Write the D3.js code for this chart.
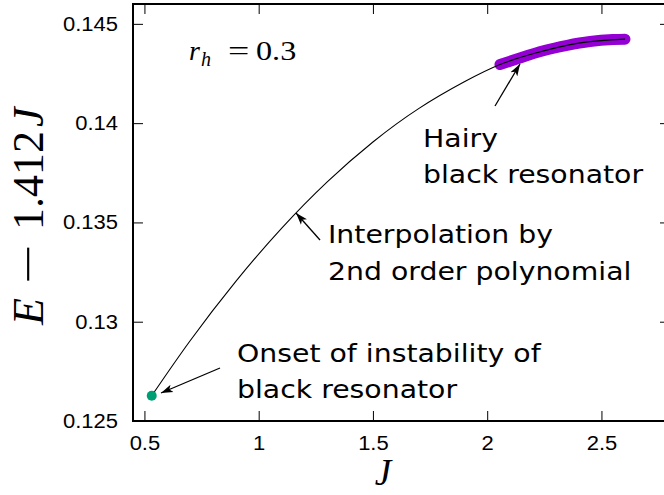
<!DOCTYPE html>
<html>
<head>
<meta charset="utf-8">
<script src="https://cdn.jsdelivr.net/npm/d3@7"></script>
<style>
  html, body { margin: 0; padding: 0; background: #fff; }
  svg { display: block; }
</style>
</head>
<body>
<div id="chart"></div>
<script>
// ---- Data ----
const xTicks = [0.5, 1, 1.5, 2, 2.5];
const yTicks = [0.125, 0.13, 0.135, 0.14, 0.145];
const yTickLabels = ["0.125", "0.13", "0.135", "0.14", "0.145"];

// Interpolation by 2nd order polynomial (thin black curve)
const curveJ = [0.532, 0.7, 0.9, 1.1, 1.3, 1.5, 1.7, 1.9, 2.056, 2.2, 2.4, 2.603];
const curveE = [0.12627, 0.12904, 0.13203, 0.13470, 0.13704, 0.13905, 0.14073, 0.14208, 0.14295, 0.14349, 0.14403, 0.14423];

// Hairy black resonator (thick purple band)
const hairyJ = [2.056, 2.15, 2.25, 2.35, 2.45, 2.55, 2.603];
const hairyE = [0.14295, 0.14331, 0.14366, 0.14392, 0.14411, 0.14421, 0.14423];

// Onset of instability of black resonator
const onsetJ = [0.532];
const onsetE = [0.12627];

// ---- Layout ----
const W = 664, H = 495;
const svg = d3.select("#chart").append("svg").attr("width", W).attr("height", H);

const x = d3.scaleLinear().domain([0.45, 2.8]).range([133, 670]);
const y = d3.scaleLinear().domain([0.125, 0.146]).range([421, 4]);

const tickFont = "'Liberation Sans', Arial, Helvetica, sans-serif";
const textFont = "'DejaVu Sans', Verdana, sans-serif";
const mathFont = "'Liberation Serif', 'Times New Roman', serif";

function stretch(sel, f) {
  sel.each(function () {
    const len = this.getComputedTextLength();
    d3.select(this).attr("textLength", len * f).attr("lengthAdjust", "spacingAndGlyphs");
  });
}

// Axes (ticks inward, mirrored)
const gx = svg.append("g").attr("transform", `translate(0,${y.range()[0]})`)
  .call(d3.axisBottom(x).tickValues(xTicks).tickSize(-10).tickPadding(15).tickFormat(d3.format("")));
const gy = svg.append("g").attr("transform", `translate(${x.range()[0]},0)`)
  .call(d3.axisLeft(y).tickValues(yTicks).tickSize(-10).tickPadding(15).tickFormat((d, i) => yTickLabels[i]));
const gxTop = svg.append("g").attr("transform", `translate(0,${y.range()[1]})`)
  .call(d3.axisTop(x).tickValues(xTicks).tickSize(-10).tickFormat(""));
const gyRight = svg.append("g").attr("transform", `translate(${x.range()[1]},0)`)
  .call(d3.axisRight(y).tickValues(yTicks).tickSize(-10).tickFormat(""));

[gx, gy, gxTop, gyRight].forEach(g => {
  g.select(".domain").remove();
  g.selectAll(".tick line").attr("stroke", "#000").attr("stroke-width", 1);
  g.selectAll("text").attr("font-family", tickFont).attr("font-size", 20).attr("fill", "#000");
});
stretch(gx.selectAll("text"), 1.1);
stretch(gy.selectAll("text"), 1.1);

// Frame
svg.append("rect")
  .attr("x", x.range()[0]).attr("y", y.range()[1])
  .attr("width", x.range()[1] - x.range()[0])
  .attr("height", y.range()[0] - y.range()[1])
  .attr("fill", "none").attr("stroke", "#000").attr("stroke-width", 2);

// Purple band
const hairyData = hairyJ.map((j, i) => [j, hairyE[i]]);
const line = d3.line().x(d => x(d[0])).y(d => y(d[1])).curve(d3.curveNatural);
svg.append("path").datum(hairyData)
  .attr("d", line)
  .attr("fill", "none").attr("stroke", "#9400d3")
  .attr("stroke-width", 11).attr("stroke-linecap", "round").attr("stroke-linejoin", "round");

// Thin curve
const curveData = curveJ.map((j, i) => [j, curveE[i]]);
svg.append("path").datum(curveData)
  .attr("d", line)
  .attr("fill", "none").attr("stroke", "#000").attr("stroke-width", 1.1);

// Onset point
svg.selectAll("circle.onset").data(onsetJ.map((j, i) => [j, onsetE[i]]))
  .enter().append("circle")
  .attr("cx", d => x(d[0])).attr("cy", d => y(d[1])).attr("r", 5)
  .attr("fill", "#009e73");

// Arrow marker
svg.append("defs").append("marker")
  .attr("id", "ah").attr("viewBox", "0 -5 12 10")
  .attr("refX", 12).attr("refY", 0)
  .attr("markerWidth", 12).attr("markerHeight", 10)
  .attr("markerUnits", "userSpaceOnUse")
  .attr("orient", "auto")
  .append("path").attr("d", "M0,-4 L12,0 L0,4 L3,0 Z").attr("fill", "#000");

const arrows = [
  [495, 106, 520, 64],
  [320, 240, 296, 213],
  [220, 368, 161, 393]
];
svg.selectAll("line.arrow").data(arrows).enter().append("line")
  .attr("x1", d => d[0]).attr("y1", d => d[1])
  .attr("x2", d => d[2]).attr("y2", d => d[3])
  .attr("stroke", "#000").attr("stroke-width", 1.3)
  .attr("marker-end", "url(#ah)");

// Annotations
const notes = [
  { x: 423, y: 147, t: "Hairy" },
  { x: 423, y: 183, t: "black resonator" },
  { x: 328, y: 243, t: "Interpolation by" },
  { x: 328, y: 280, t: "2nd order polynomial" },
  { x: 237, y: 362, t: "Onset of instability of" },
  { x: 237, y: 398, t: "black resonator" }
];
const noteSel = svg.selectAll("text.note").data(notes).enter().append("text")
  .attr("class", "note")
  .attr("x", d => d.x).attr("y", d => d.y)
  .attr("font-family", textFont).attr("font-size", 24).attr("fill", "#000")
  .text(d => d.t);
stretch(noteSel, 1.18);

// r_h = 0.3
const rh = svg.append("text").attr("y", 60)
  .attr("font-family", mathFont).attr("font-size", 28).attr("fill", "#000");
rh.append("tspan").attr("x", 189).attr("font-style", "italic").text("r");
rh.append("tspan").attr("x", 201).attr("y", 66).attr("font-style", "italic").attr("font-size", 20).text("h");
const eqT = rh.append("tspan").attr("x", 228).attr("y", 60).text("=");
const numT = rh.append("tspan").attr("x", 256).text("0.3");
stretch(eqT, 1.35);
stretch(numT, 1.15);

// Y label (rotated; x in rotated frame = -screen y)
const yl = svg.append("text")
  .attr("transform", "translate(43,0) rotate(-90)")
  .attr("font-family", mathFont).attr("font-size", 44).attr("fill", "#000");
yl.append("tspan").attr("x", -325).attr("font-style", "italic").text("E");
const minusT = yl.append("tspan").attr("x", -284).text("\u2212");
yl.append("tspan").attr("x", -230).text("1.412");
yl.append("tspan").attr("x", -127).attr("font-style", "italic").text("J");
minusT.attr("textLength", 40).attr("lengthAdjust", "spacingAndGlyphs");

// X label
svg.append("text").attr("x", 383).attr("y", 485)
  .attr("text-anchor", "middle")
  .attr("font-family", mathFont).attr("font-style", "italic")
  .attr("font-size", 37).attr("fill", "#000").text("J");
</script>
</body>
</html>
